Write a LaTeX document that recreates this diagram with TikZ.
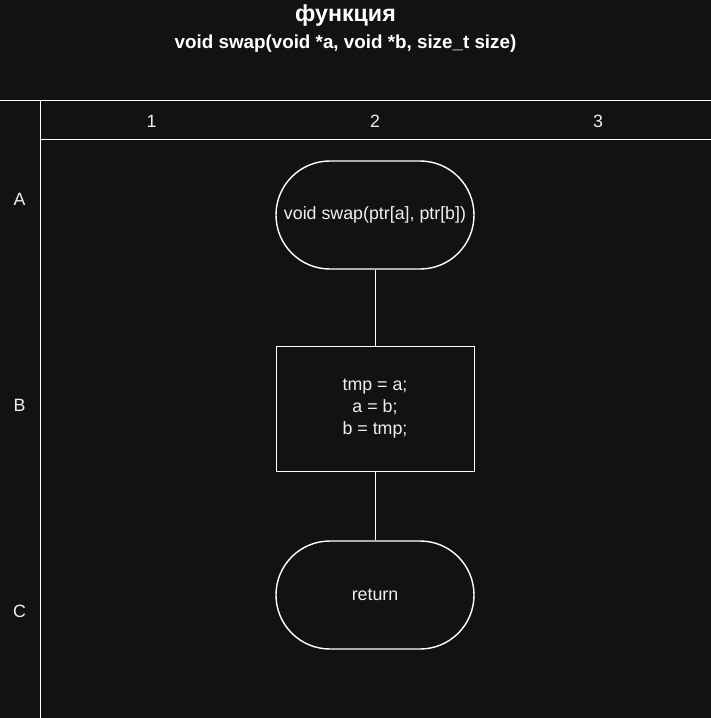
\documentclass[tikz,border=0pt]{standalone}
\usepackage{fontspec}
\setmainfont{Liberation Sans}
\definecolor{bg}{HTML}{121212}
\definecolor{fg}{HTML}{F0F0F0}
\newcommand{\bodysize}{\fontsize{17.8}{22}\selectfont}

\begin{document}
\begin{tikzpicture} [
    x=1pt, y=-1pt,
    t/.style = {rectangle, draw=white, line width=1.4pt, rounded corners=53.9pt,
    minimum width=198pt, minimum height=108pt, text=fg, font=\bodysize, inner sep=0pt},
    b/.style = {rectangle, draw=white, line width=1pt, minimum width=198pt,
    minimum height=125pt, text=fg, align=center, font=\bodysize},
    lbl/.style = {text=fg, font=\bodysize},
    grid/.style = {draw=white, line width=1pt},
    line/.style = {draw=white, line width=1pt}
    ]
    \fill[bg] (0,0) rectangle (711,718);
    \useasboundingbox (0,0) rectangle (711,718);
    % header
    \node[text=white, font=\bfseries\fontsize{23.2}{28}\selectfont] (title) at (345.5,15.5) {функция};
    \node[text=white, font=\bfseries\fontsize{18.8}{23}\selectfont] (sig) at (345.5,44) {void swap(void *a, void *b, size\_t size)};
    % grid
    \draw[grid] (0,100) -- (711,100);
    \draw[grid] (40,100) -- (40,718);
    \draw[grid] (40,139) -- (711,139);
    \foreach \n/\x in {1/151.5, 2/375, 3/598}
        \node[lbl] (col\n) at (\x,121) {\n};
    \foreach \r/\y in {A/199, B/405, C/611}
        \node[lbl] (row\r) at (19.5,\y) {\r};
    % flowchart
    \node[t] (start) at (375,215) {void swap(ptr[a], ptr[b])};
    \node[b] (body) at (375,408.5) {tmp = a;\\ a = b;\\ b = tmp;};
    \node[t] (ret) at (375,595) {return};

    \draw[line] (start) -- (body);
    \draw[line] (body) -- (ret);
\end{tikzpicture}
\end{document}
